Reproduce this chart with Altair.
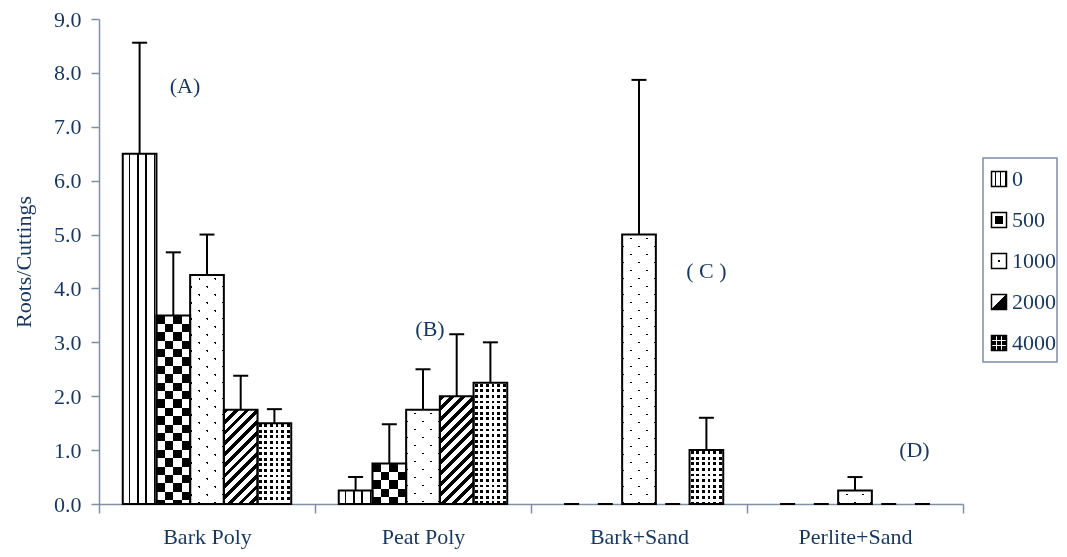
import math
import altair as alt

# ---------------- data ----------------
groups = ["Bark Poly", "Peat Poly", "Bark+Sand", "Perlite+Sand"]
series = ["0", "500", "1000", "2000", "4000"]

bark_poly = [6.5, 3.5, 4.25, 1.75, 1.5]
peat_poly = [0.25, 0.75, 1.75, 2.0, 2.25]
bark_sand = [0.0, 0.0, 5.0, 0.0, 1.0]
perlite_sand = [0.0, 0.0, 0.25, 0.0, 0.0]

bark_poly_err = [8.56, 4.67, 5.0, 2.38, 1.76]
peat_poly_err = [0.5, 1.48, 2.5, 3.15, 3.0]
bark_sand_err = [0.0, 0.0, 7.87, 0.0, 1.6]
perlite_sand_err = [0.0, 0.0, 0.5, 0.0, 0.0]

y_ticks = [0, 1, 2, 3, 4, 5, 6, 7, 8, 9]

notes = ["(A)", "(B)", "( C )", "(D)"]
note_group = ["Bark Poly", "Peat Poly", "Bark+Sand", "Perlite+Sand"]
note_series = ["1000", "1000", "4000", "4000"]
note_y = [7.76, 3.25, 4.32, 1.0]

# ---------------- style ----------------
FONT = "Liberation Serif"
NAVY = "#17375e"
SLATE = "#7f8fa5"
W_PLOT, H_PLOT = 864, 485
TOP = 11
Y_MAX = 9.0
OFF_PAD = 0.705
BAR_W = W_PLOT / len(groups) / (len(series) + 2 * OFF_PAD)
PX = H_PLOT / Y_MAX
note_dx = [-22, 7, 0, -8]


def stripes(W, H, n, period, dark, phase):
    """Linear gradient (bounding-box units) that draws black stripes."""
    nx, ny = n
    L = math.hypot(nx, ny)
    nx, ny = nx / L, ny / L
    pts = [(0.0, 0.0), (1.0, 0.0), (0.0, 1.0), (1.0, 1.0)]
    s = [nx * u * W + ny * v * H for u, v in pts]
    smin, smax = min(s), max(s)
    span = smax - smin
    if span <= 0:
        return "white"
    u1, v1 = pts[s.index(smin)]
    dd = (nx * W) ** 2 + (ny * H) ** 2
    lam = span / dd
    u2, v2 = u1 + lam * nx * W, v1 + lam * ny * H
    if abs(nx) < 1e-9:
        u1 = u2 = 1.0
    stops = [{"offset": 0.0, "color": "white"}]
    k0 = math.floor((smin - phase) / period) - 1
    k1 = math.ceil((smax - phase) / period) + 1
    for k in range(k0, k1 + 1):
        a = max(phase + k * period, smin)
        b = min(phase + k * period + dark, smax)
        if b <= a:
            continue
        ta = round((a - smin) / span, 5)
        tb = round((b - smin) / span, 5)
        stops += [
            {"offset": ta, "color": "white"},
            {"offset": ta, "color": "black"},
            {"offset": tb, "color": "black"},
            {"offset": tb, "color": "white"},
        ]
    stops.append({"offset": 1.0, "color": "white"})
    return {"gradient": "linear", "x1": round(u1, 5), "y1": round(v1, 5),
            "x2": round(u2, 5), "y2": round(v2, 5), "stops": stops}


PATTERNS = {
    "0": (((1, 0), 8.4, 1.6, 5.8), None, ""),
    "500": (((0, 1), 16.8, 8.4, 0.0), ((1, 0), 16.8, 8.4, 0.0), "difference"),
    "1000": (((1, 1), 11.31, 1.5, 8.4), ((1, -1), 11.31, 1.5, 2.8), "lighten"),
    "2000": (((1, 1), 7.6, 3.5, 0.0), None, ""),
    "4000": (((0, 1), 5.6, 2.8, 1.0), ((1, 0), 5.6, 2.8, 1.2), "lighten"),
}
LEG_PATTERNS = {
    "0": (((1, 0), 5.0, 1.4, 3.3), None, ""),
    "500": (((0, 1), 100, 8, 3.5), ((1, 0), 100, 8, 3.5), "lighten"),
    "1000": (((0, 1), 100, 2.2, 6.4), ((1, 0), 100, 2.2, 6.4), "lighten"),
    "2000": (((1, 1), 200, 100, 10.6), None, ""),
    "4000": (((0, 1), 5.0, 3.6, 0.7), ((1, 0), 5.0, 3.6, 0.7), "lighten"),
}

means = [bark_poly, peat_poly, bark_sand, perlite_sand]
errs = [bark_poly_err, peat_poly_err, bark_sand_err, perlite_sand_err]

records = []
for gi, g in enumerate(groups):
    for si, s in enumerate(series):
        v = means[gi][si]
        H = v * PX
        p1, p2, mode = PATTERNS[s]
        records.append({
            "group": g, "series": s, "value": v, "err": errs[gi][si],
            "g1": stripes(BAR_W, H, *p1) if H > 0 else "white",
            "g2": stripes(BAR_W, H, *p2) if (p2 and H > 0) else "white",
            "mode": mode,
        })

leg_records = []
for s in series:
    p1, p2, mode = LEG_PATTERNS[s]
    leg_records.append({
        "series": s,
        "g1": stripes(15, 15, *p1),
        "g2": stripes(15, 15, *p2) if p2 else "white",
        "mode": mode,
    })

# ---------------- encodings ----------------
X = alt.X("group:N", sort=groups,
          scale=alt.Scale(paddingInner=0, paddingOuter=0),
          axis=alt.Axis(title=None, labelAngle=0, tickBand="extent", tickSize=9,
                        labelPadding=30, labelBaseline="alphabetic"))
XO = alt.XOffset("series:N", sort=series,
                 scale=alt.Scale(domain=series, paddingInner=0, paddingOuter=OFF_PAD))
axis_y = alt.Axis(values=y_ticks, format=".1f", title="Roots/Cuttings",
                  tickSize=8, labelPadding=10, titlePadding=18)


def ys(field):
    return alt.Y(field, stack=None, scale=alt.Scale(domain=[0, Y_MAX], nice=False),
                 axis=axis_y)


bars = alt.Chart(alt.Data(values=records))
nonzero = bars.transform_filter("datum.value > 0")

fill1 = nonzero.mark_bar(strokeWidth=0, opacity=1).encode(
    x=X, xOffset=XO, y=ys("value:Q"), fill=alt.Fill("g1:N", scale=None))
fill_diff = nonzero.transform_filter("datum.mode == 'difference'").mark_bar(
    strokeWidth=0, opacity=1, blend="difference").encode(
    x=X, xOffset=XO, y=ys("value:Q"), fill=alt.Fill("g2:N", scale=None))
fill_light = nonzero.transform_filter("datum.mode == 'lighten'").mark_bar(
    strokeWidth=0, opacity=1, blend="lighten").encode(
    x=X, xOffset=XO, y=ys("value:Q"), fill=alt.Fill("g2:N", scale=None))
outline = nonzero.mark_bar(fillOpacity=0, stroke="black", strokeWidth=2, opacity=1).encode(
    x=X, xOffset=XO, y=ys("value:Q"))

err_rule = bars.mark_rule(color="black", strokeWidth=2).encode(
    x=X, xOffset=XO, y=ys("value:Q"), y2="err:Q")
err_cap = bars.mark_tick(color="black", thickness=2, size=15, opacity=1).encode(
    x=X, xOffset=XO, y=ys("err:Q"))

note_layers = []
for i in range(len(notes)):
    nd = alt.Data(values=[{"group": note_group[i], "series": note_series[i],
                           "y": note_y[i], "text": notes[i]}])
    note_layers.append(
        alt.Chart(nd).mark_text(dx=note_dx[i], font=FONT, fontSize=22, color=NAVY,
                                baseline="middle", align="center").encode(
            x=X, xOffset=XO, y=ys("y:Q"), text="text:N"))

main = alt.layer(fill1, fill_diff, fill_light, outline, err_rule, err_cap, *note_layers)

# ---------------- legend ----------------
LEG = alt.Y("series:N", sort=series,
            scale=alt.Scale(type="point", range=[160, 324], padding=0), axis=None)
leg = alt.Chart(alt.Data(values=leg_records))
leg_fill = leg.mark_square(size=225, strokeWidth=0, opacity=1).encode(
    x=alt.value(900), y=LEG, fill=alt.Fill("g1:N", scale=None))
leg_light = leg.transform_filter("datum.mode == 'lighten'").mark_square(
    size=225, strokeWidth=0, opacity=1, blend="lighten").encode(
    x=alt.value(900), y=LEG, fill=alt.Fill("g2:N", scale=None))
leg_outline = leg.mark_square(size=225, fillOpacity=0, stroke="black",
                              strokeWidth=1.5, opacity=1).encode(
    x=alt.value(900), y=LEG)
leg_text = leg.mark_text(align="left", baseline="middle", font=FONT, fontSize=22,
                         color=NAVY).encode(x=alt.value(913), y=LEG, text="series:N")
leg_box = alt.Chart(alt.Data(values=[{"k": 1}])).mark_rect(
    fillOpacity=0, stroke=SLATE, strokeWidth=1.5).encode(
    x=alt.value(884), x2=alt.value(958), y=alt.value(139), y2=alt.value(343))

legend = alt.layer(leg_box, leg_fill, leg_light, leg_outline, leg_text)

chart = alt.layer(main, legend).resolve_scale(y="independent").properties(
    width=W_PLOT, height=H_PLOT,
    padding={"left": 91, "top": TOP, "right": 96, "bottom": 541 - TOP - H_PLOT},
    autosize=alt.AutoSizeParams(type="none"),
    background="white",
).configure_view(stroke=None).configure_axis(
    labelFont=FONT, titleFont=FONT, labelColor=NAVY, titleColor=NAVY,
    labelFontSize=22, titleFontSize=22, titleFontWeight="normal",
    domainColor=SLATE, tickColor=SLATE, domainWidth=1.5, tickWidth=1.5, grid=False,
)

chart.save("out.html", embed_options={"renderer": "svg", "actions": False})
